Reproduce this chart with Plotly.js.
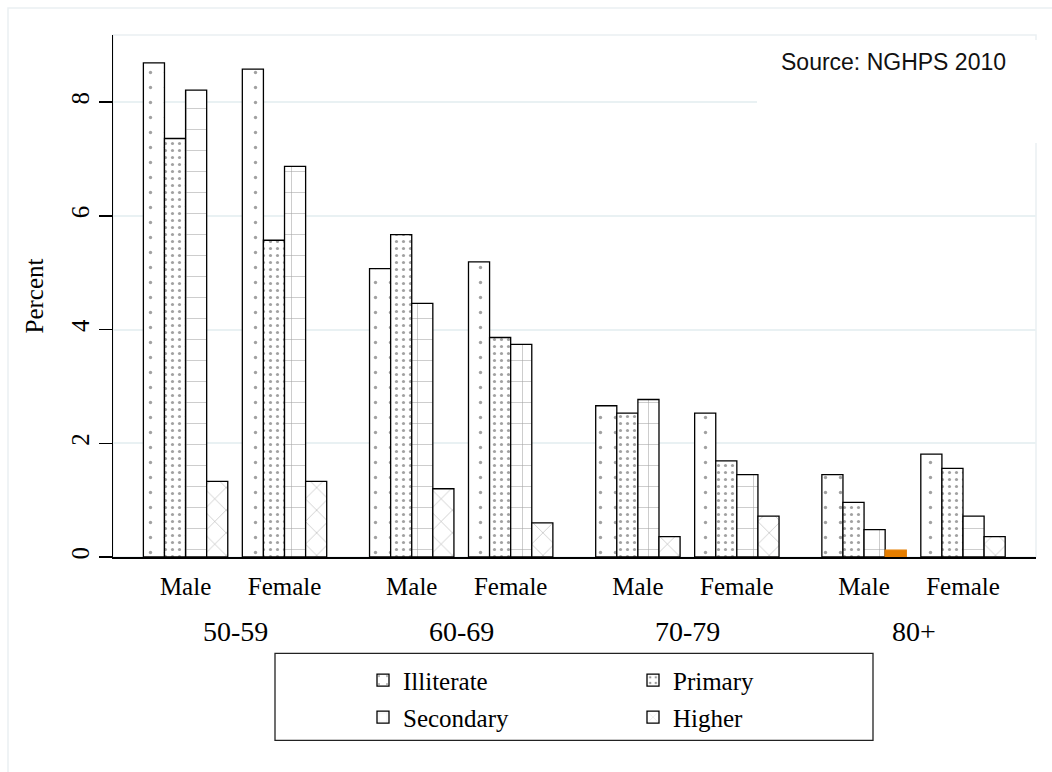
<!DOCTYPE html>
<html>
<head>
<meta charset="utf-8">
<script src="https://cdn.plot.ly/plotly-3.0.1.min.js"></script>
<style>html,body{margin:0;padding:0;background:#fff;}#chart{width:1052px;height:772px;}</style>
</head>
<body>
<div id="chart"></div>
<script>
// ---- data ----
const ageGroups = ['50-59', '60-69', '70-79', '80+'];
const sexes = ['Male', 'Female'];
const seriesNames = ['Illiterate', 'Primary', 'Secondary', 'Higher'];
// values ordered: 50-59 Male, 50-59 Female, 60-69 Male, 60-69 Female, ...
const illiterate = [8.69, 8.58, 5.07, 5.19, 2.66, 2.53, 1.45, 1.81];
const primary    = [7.36, 5.57, 5.67, 3.86, 2.53, 1.69, 0.96, 1.56];
const secondary  = [8.21, 6.87, 4.46, 3.74, 2.77, 1.45, 0.48, 0.72];
const higher     = [1.33, 1.33, 1.20, 0.60, 0.36, 0.72, 0.12, 0.36];
const sourceNote = 'Source: NGHPS 2010';
const yTicks = [0, 2, 4, 6, 8];

(function () {
// ---- layout helpers (scale in bar-width units) ----
const SEX_STEP = 4.69, GROUP_STEP = 10.72;
const xPos = [], xLab = [];
ageGroups.forEach((g, gi) => sexes.forEach((s, si) => {
  xPos.push(gi * GROUP_STEP + si * SEX_STEP);
  xLab.push(s);
}));
const groupCenters = ageGroups.map((g, gi) => gi * GROUP_STEP + SEX_STEP / 2);

const values = [illiterate, primary, secondary, higher];
const patterns = [
  {shape: '.', size: 15, solidity: 0.04, fgcolor: '#333'},
  {shape: '.', size: 7, solidity: 0.16, fgcolor: '#333'},
  {shape: '+', size: 21, solidity: 0.05, fgcolor: '#777'},
  {shape: 'x', size: 16, solidity: 0.06, fgcolor: '#777'}
];
// highlighted bar (drawn solid orange in the original)
const highlight = {series: 3, index: 6, color: '#E67E00'};

const traces = seriesNames.map((name, k) => {
  const isHi = i => highlight.series === k && highlight.index === i;
  const pat = patterns[k];
  return {
    type: 'bar', name: name, x: xPos, y: values[k],
    offset: -2 + k, width: 1,
    legend: k < 2 ? 'legend' : 'legend2',
    marker: {
      color: values[k].map((v, i) => isHi(i) ? highlight.color : 'white'),
      line: {color: values[k].map((v, i) => isHi(i) ? highlight.color : 'black'), width: 1.3},
      pattern: {
        shape: values[k].map((v, i) => isHi(i) ? '' : pat.shape),
        size: pat.size, solidity: pat.solidity, fgcolor: pat.fgcolor, fillmode: 'overlay'
      }
    },
    hoverinfo: 'skip'
  };
});

const SERIF = 'Liberation Serif, Times New Roman, serif';
const pL = 113, pR = 1036, pT = 35, pB = 556.7;
const W = pR - pL, H = pB - pT;
const px2paperX = p => (p - pL) / W;
const px2paperY = p => (pB - p) / H;

const annotations = ageGroups.map((g, gi) => ({
  text: g, x: groupCenters[gi], xref: 'x', y: px2paperY(631), yref: 'paper',
  showarrow: false, xanchor: 'center', yanchor: 'middle',
  font: {family: SERIF, size: 28, color: '#000'}
}));
annotations.push({
  text: sourceNote, x: px2paperX(893), y: px2paperY(62), xref: 'paper', yref: 'paper',
  showarrow: false, xanchor: 'center', yanchor: 'middle',
  font: {family: 'Liberation Sans, Arial, sans-serif', size: 23, color: '#111'}
});

const faint = '#EAF0F2';
const shapes = [
  {type: 'rect', xref: 'paper', yref: 'paper', x0: px2paperX(8), x1: px2paperX(1070), y0: px2paperY(790), y1: px2paperY(8),
   line: {color: faint, width: 1.5}, fillcolor: 'rgba(0,0,0,0)', layer: 'below'},
  {type: 'rect', xref: 'paper', yref: 'paper', x0: 0, x1: 1, y0: 0, y1: 1,
   line: {color: faint, width: 1.5}, fillcolor: 'rgba(0,0,0,0)', layer: 'below'},
  {type: 'rect', xref: 'paper', yref: 'paper', x0: px2paperX(757), x1: px2paperX(1042), y0: px2paperY(143), y1: px2paperY(40),
   line: {width: 0}, fillcolor: 'white', layer: 'above'},
  {type: 'rect', xref: 'paper', yref: 'paper', x0: px2paperX(275), x1: px2paperX(873), y0: px2paperY(740), y1: px2paperY(653),
   line: {color: '#222', width: 1.3}, fillcolor: 'rgba(0,0,0,0)', layer: 'above'}
];

const legendCommon = {
  orientation: 'h', xref: 'paper', yref: 'paper', xanchor: 'left', yanchor: 'middle',
  font: {family: SERIF, size: 25, color: '#000'}, bgcolor: 'rgba(0,0,0,0)', borderwidth: 0,
  entrywidth: 225, entrywidthmode: 'pixels', itemclick: false, itemdoubleclick: false
};

const layout = {
  width: 1052, height: 772,
  margin: {l: pL, r: 1052 - pR, t: pT, b: 772 - pB, autoexpand: false},
  paper_bgcolor: 'white', plot_bgcolor: 'white',
  barmode: 'overlay',
  showlegend: true,
  legend: Object.assign({}, legendCommon, {x: px2paperX(363), y: px2paperY(680)}),
  legend2: Object.assign({}, legendCommon, {x: px2paperX(363), y: px2paperY(717)}),
  xaxis: {
    range: [-3.44, 40.31], tickvals: xPos, ticktext: xLab, showgrid: false, zeroline: false,
    showline: true, linecolor: '#000', linewidth: 1.5,
    ticks: 'outside', ticklen: 6, tickcolor: 'rgba(0,0,0,0)',
    tickfont: {family: SERIF, size: 25, color: '#000'}
  },
  yaxis: {
    range: [0, 9.18], tickvals: yTicks, ticktext: yTicks.map(String), tickangle: -90,
    showgrid: true, gridcolor: '#E9F1F3', gridwidth: 2, zeroline: false,
    showline: true, linecolor: '#000', linewidth: 1.5,
    ticks: 'outside', ticklen: 13, tickwidth: 1.5, tickcolor: '#000',
    tickfont: {family: SERIF, size: 25, color: '#000'},
    title: {text: 'Percent', font: {family: SERIF, size: 25, color: '#000'}, standoff: 16}
  },
  annotations: annotations,
  shapes: shapes
};

Plotly.newPlot('chart', traces, layout, {displayModeBar: false, staticPlot: true});
})();
</script>
</body>
</html>
